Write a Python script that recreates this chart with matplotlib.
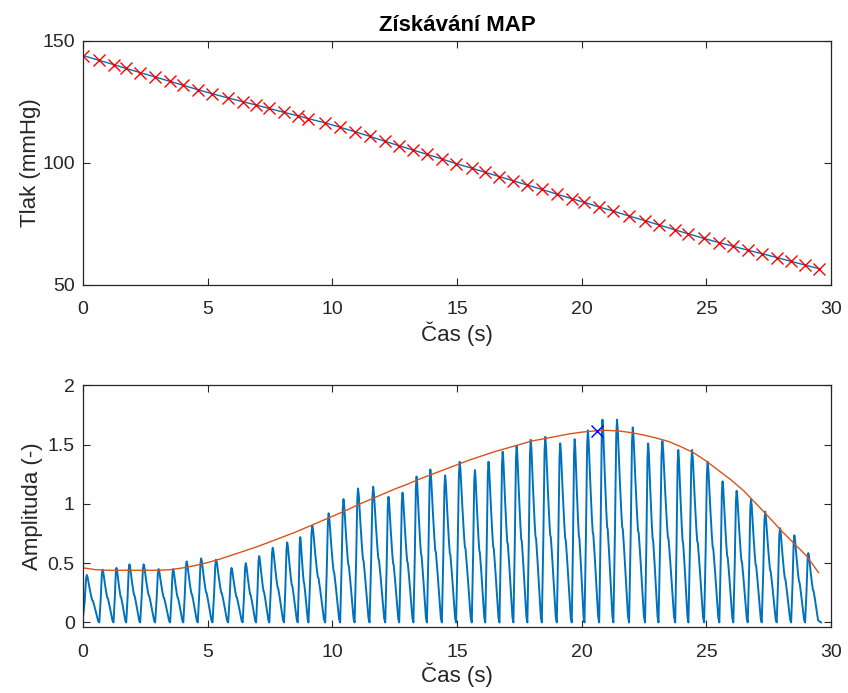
import numpy as np
import matplotlib.pyplot as plt


# ==============================
# data
# ==============================
# beat onsets (s) = red markers in the top panel
beat_t = [0.0, 0.65, 1.22, 1.73, 2.29, 2.89, 3.49, 4.02, 4.60, 5.19,
          5.82, 6.40, 6.94, 7.47, 8.06, 8.61, 9.04, 9.71, 10.31, 10.89,
          11.49, 12.12, 12.68, 13.25, 13.79, 14.39, 14.96, 15.59, 16.13, 16.70,
          17.26, 17.82, 18.40, 19.00, 19.60, 20.11, 20.70, 21.27, 21.90, 22.54,
          23.08, 23.75, 24.28, 24.91, 25.52, 26.08, 26.66, 27.22, 27.82, 28.40,
          28.96, 29.52]

# cuff pressure at each onset (mmHg)
beat_p = [144.0, 142.0, 140.3, 138.7, 137.0, 135.2, 133.4, 131.8, 130.0, 128.3,
          126.6, 125.1, 123.7, 122.3, 120.7, 119.3, 118.1, 116.4, 114.6, 112.8,
          110.9, 108.8, 107.0, 105.2, 103.5, 101.6, 99.7, 97.8, 96.1, 94.4,
          92.6, 90.9, 89.1, 87.2, 85.3, 83.8, 81.9, 80.2, 78.2, 76.3,
          74.6, 72.5, 70.9, 69.0, 67.3, 65.8, 64.2, 62.8, 61.2, 59.6,
          58.1, 56.6]

# peak amplitude of each pulse (one per beat interval)
peak_amp = [0.40, 0.445, 0.46, 0.49, 0.49, 0.45, 0.45, 0.515, 0.54, 0.53,
            0.46, 0.50, 0.56, 0.63, 0.675, 0.72, 0.815, 0.92, 1.04, 1.13,
            1.145, 1.06, 1.095, 1.23, 1.29, 1.24, 1.355, 1.285, 1.355, 1.44,
            1.49, 1.54, 1.565, 1.51, 1.545, 1.62, 1.71, 1.71, 1.645, 1.51,
            1.53, 1.455, 1.455, 1.355, 1.19, 1.11, 1.04, 0.935, 0.795, 0.735,
            0.585]

# shape of one pulse: phase within the beat -> fraction of peak
pulse_phase = [0.0, 0.10, 0.18, 0.23, 0.28, 0.40, 0.50, 0.56, 0.60, 0.70, 0.82, 0.93, 1.0]
pulse_shape = [0.0, 0.45, 0.92, 1.00, 0.95, 0.72, 0.55, 0.47, 0.46, 0.34, 0.18, 0.03, 0.0]

# envelope (orange)
env_t = [0.0, 0.5, 1, 2, 3, 3.5, 4, 4.5, 5, 5.5, 6, 6.5, 7, 7.5, 8, 8.5, 9, 9.5,
         10, 10.5, 11, 11.5, 12, 12.5, 13, 13.5, 14, 14.5, 15, 15.5, 16, 16.5,
         17, 17.5, 18, 18.5, 19, 19.5, 20, 20.5, 21, 21.5, 22, 22.5, 23, 23.5,
         24, 24.5, 25, 25.5, 26, 26.5, 27, 27.5, 28, 28.5, 29, 29.5]
env_v = [0.46, 0.445, 0.44, 0.44, 0.44, 0.445, 0.46, 0.48, 0.505, 0.535, 0.57,
         0.605, 0.64, 0.68, 0.72, 0.76, 0.805, 0.85, 0.895, 0.94, 0.99, 1.035,
         1.08, 1.125, 1.165, 1.21, 1.25, 1.29, 1.33, 1.37, 1.405, 1.44, 1.47,
         1.50, 1.53, 1.55, 1.57, 1.59, 1.605, 1.615, 1.62, 1.615, 1.60, 1.58,
         1.555, 1.525, 1.48, 1.43, 1.36, 1.28, 1.20, 1.11, 1.00, 0.89, 0.775,
         0.67, 0.565, 0.42]

map_t = [20.6]
map_v = [1.615]

x_ticks = [0, 5, 10, 15, 20, 25, 30]


def pulse_signal():
    t_all, v_all = [], []
    for i in range(len(peak_amp)):
        t0, t1 = beat_t[i], beat_t[i + 1]
        for ph, sh in zip(pulse_phase[:-1], pulse_shape[:-1]):
            t_all.append(t0 + ph * (t1 - t0))
            v_all.append(sh * peak_amp[i])
    t_all.append(29.6)
    v_all.append(0.0)
    v_all[0] = 0.05
    return np.array(t_all), np.array(v_all)


def style_axes(ax):
    for s in ax.spines.values():
        s.set_color('#262626')
        s.set_linewidth(0.9)
    ax.tick_params(direction='in', top=True, right=True, length=5, pad=6,
                   width=0.8, color='#262626', labelsize=14, labelcolor='#262626')
    ax.tick_params(axis='x', pad=12)
    ax.set_xlim(0, 30)
    ax.set_xticks(x_ticks)


plt.rcParams['font.family'] = ['Liberation Sans', 'DejaVu Sans']
fig = plt.figure(figsize=(8.48, 6.93), dpi=100)

ax1 = fig.add_axes([0.098, 0.589, 0.882, 0.352])
ax1.plot(beat_t, beat_p, color='#0072BD', lw=1.0)
ax1.plot(beat_t, beat_p, 'x', color='red', ms=8, mew=1.0)
style_axes(ax1)
ax1.set_ylim(50, 150)
ax1.set_yticks([50, 100, 150])
ax1.set_xlabel('Čas (s)', fontsize=16, color='#262626', labelpad=2)
ax1.set_ylabel('Tlak (mmHg)', fontsize=16, color='#262626', labelpad=1)
ax1.set_title('Získávání MAP', fontsize=16, fontweight='bold', pad=7)

ax2 = fig.add_axes([0.098, 0.095, 0.882, 0.349])
pt, pv = pulse_signal()
ax2.plot(pt, pv, color='#0072BD', lw=1.4)
ax2.plot(env_t, env_v, color='#D95319', lw=1.0)
ax2.plot(map_t, map_v, 'x', color='blue', ms=8, mew=1.0)
style_axes(ax2)
ax2.set_ylim(-0.04, 2)
ax2.set_yticks([0, 0.5, 1, 1.5, 2])
ax2.set_yticklabels(['0', '0.5', '1', '1.5', '2'])
ax2.set_xlabel('Čas (s)', fontsize=16, color='#262626', labelpad=1)
ax2.set_ylabel('Amplituda (-)', fontsize=16, color='#262626', labelpad=3)

fig.savefig('out.png', dpi=100)
